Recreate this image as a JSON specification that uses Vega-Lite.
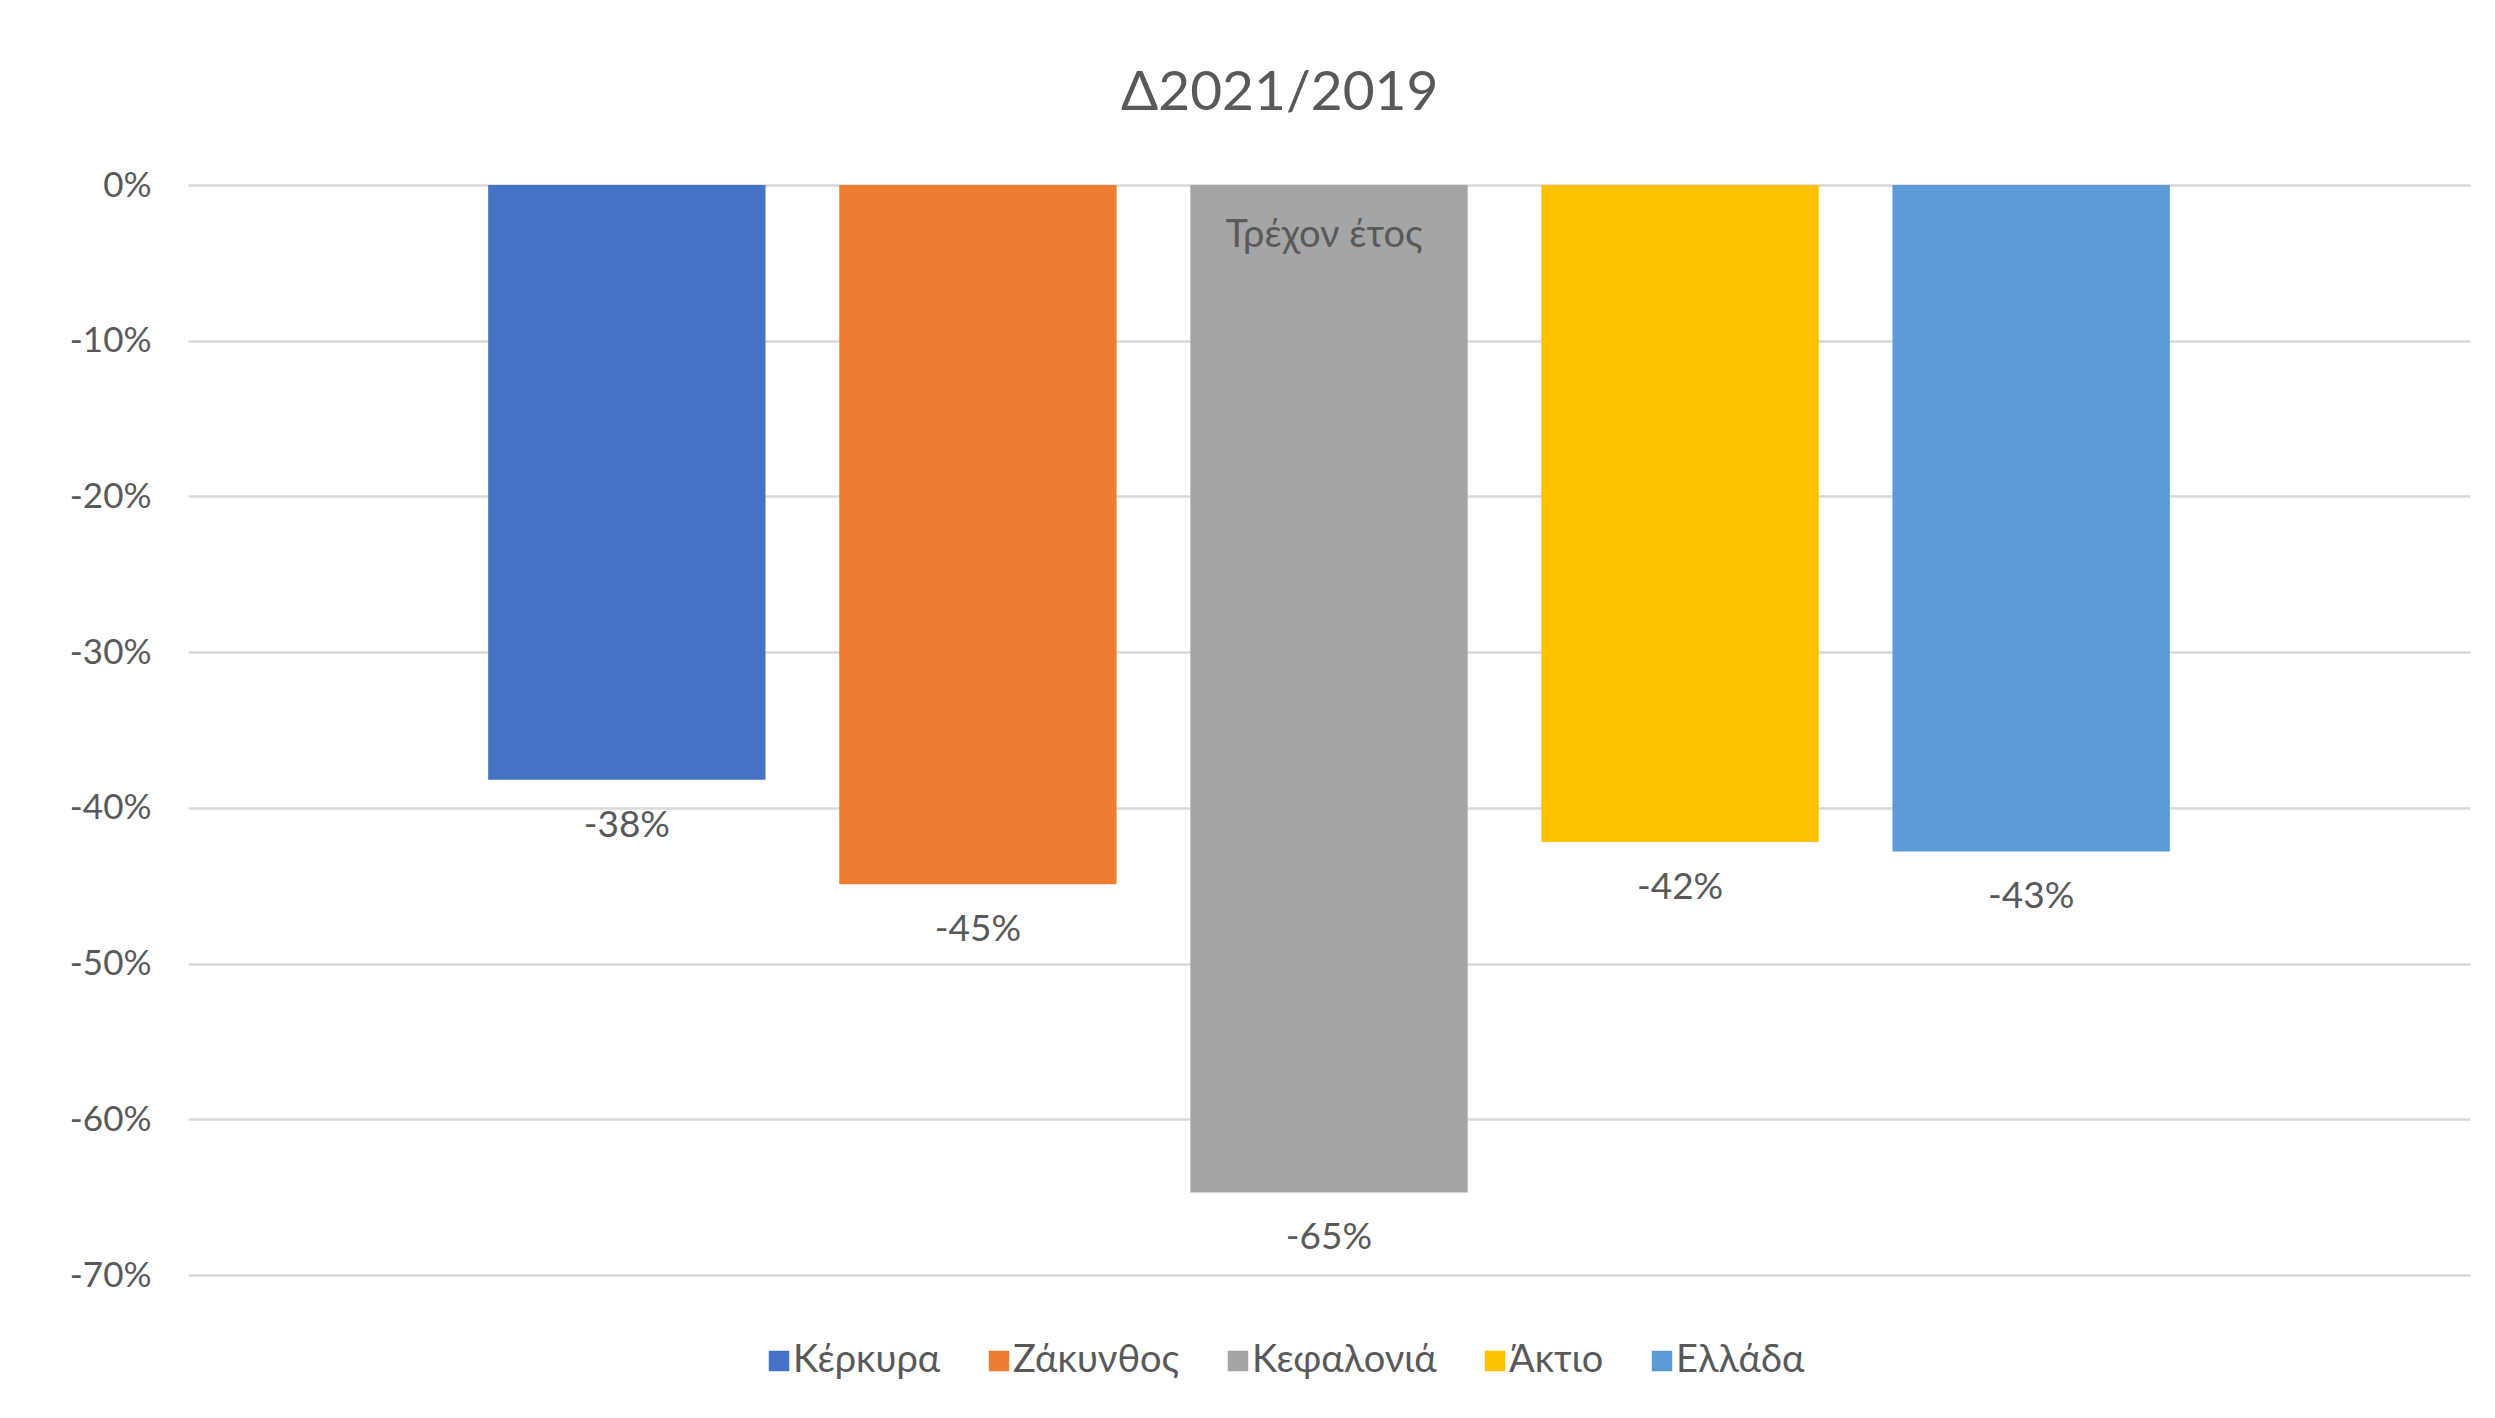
{
  "$schema": "https://vega.github.io/schema/vega-lite/v6.json",
  "width": 2282,
  "height": 1090,
  "autosize": {"type": "none"},
  "padding": {"left": 188, "top": 185, "right": 25, "bottom": 143},
  "background": "white",
  "title": {
    "text": "Δ2021/2019",
    "anchor": "middle",
    "frame": "bounds",
    "font": "Lato",
    "fontSize": 55,
    "fontWeight": "normal",
    "color": "#595959",
    "offset": 46,
    "dx": 10
  },
  "data": {
    "values": [
      {"region": "Κέρκυρα", "change": -0.382},
      {"region": "Ζάκυνθος", "change": -0.449},
      {"region": "Κεφαλονιά", "change": -0.647, "note": "Τρέχον έτος"},
      {"region": "Άκτιο", "change": -0.422},
      {"region": "Ελλάδα", "change": -0.428}
    ]
  },
  "encoding": {
    "x": {
      "field": "region",
      "type": "nominal",
      "sort": null,
      "scale": {"paddingInner": 0.21, "paddingOuter": 0.855},
      "axis": null
    }
  },
  "layer": [
    {
      "mark": {"type": "bar"},
      "encoding": {
        "y": {
          "field": "change",
          "type": "quantitative",
          "scale": {"domain": [-0.7, 0], "nice": false},
          "axis": {
            "values": [0, -0.1, -0.2, -0.3, -0.4, -0.5, -0.6, -0.7],
            "format": ".0%",
            "grid": true,
            "gridColor": "#d9d9d9",
            "gridWidth": 2.5,
            "domain": false,
            "ticks": false,
            "labelPadding": 37,
            "labelFont": "Lato",
            "labelFontSize": 35,
            "labelColor": "#595959",
            "title": null
          }
        },
        "color": {
          "field": "region",
          "type": "nominal",
          "scale": {
            "domain": ["Κέρκυρα", "Ζάκυνθος", "Κεφαλονιά", "Άκτιο", "Ελλάδα"],
            "range": ["#4472C4", "#ED7D31", "#A5A5A5", "#FFC000", "#5B9BD5"]
          },
          "legend": {
            "orient": "none",
            "legendX": 572,
            "legendY": 1157,
            "direction": "horizontal",
            "title": null,
            "symbolType": "square",
            "symbolSize": 420,
            "symbolStrokeWidth": 0,
            "labelFont": "Lato",
            "labelFontSize": 38,
            "labelColor": "#595959",
            "labelLimit": 0,
            "labelOffset": -5,
            "columnPadding": 39,
            "padding": 0
          }
        }
      }
    },
    {
      "mark": {"type": "text", "dy": 46, "baseline": "middle", "align": "center", "font": "Lato", "fontSize": 37, "color": "#595959"},
      "encoding": {
        "y": {"field": "change", "type": "quantitative"},
        "text": {"field": "change", "type": "quantitative", "format": ".0%"}
      }
    },
    {
      "transform": [{"filter": "datum.note"}],
      "mark": {"type": "text", "dy": 51, "dx": -5, "baseline": "middle", "align": "center", "font": "Lato", "fontSize": 38, "color": "#595959"},
      "encoding": {
        "y": {"datum": 0},
        "text": {"field": "note", "type": "nominal"}
      }
    }
  ],
  "config": {
    "view": {"stroke": null},
    "locale": {
      "number": {"decimal": ".", "thousands": ",", "grouping": [3], "currency": ["", ""], "minus": "-", "percent": "%"}
    }
  }
}
